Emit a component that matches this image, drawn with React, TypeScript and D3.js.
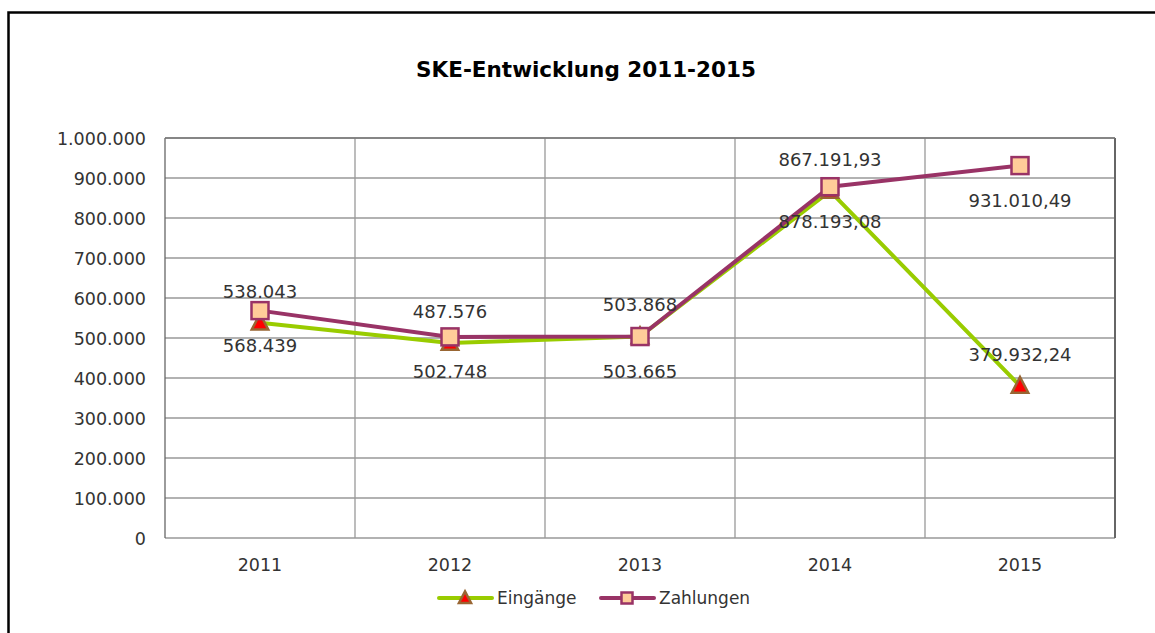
import React from 'react';
import { scaleBand, scaleLinear, line, range } from 'd3';

const years = ['2011', '2012', '2013', '2014', '2015'];
const eingaenge = [538043, 487576, 503868, 867191.93, 379932.24];
const zahlungen = [568439, 502748, 503665, 878193.08, 931010.49];
const eingaengeLabels = ['538.043', '487.576', '503.868', '867.191,93', '379.932,24'];
const zahlungenLabels = ['568.439', '502.748', '503.665', '878.193,08', '931.010,49'];
const yTickLabels = ['0', '100.000', '200.000', '300.000', '400.000', '500.000', '600.000', '700.000', '800.000', '900.000', '1.000.000'];

const W = 1155
const H = 633
const plot = { left: 165, right: 1115, top: 138, bottom: 538 }
const font = "'DejaVu Sans', sans-serif"
const green = '#99CC00'
const purple = '#993366'

const Triangle = ({ x, y, s }) => (
  <path d={`M${x},${y - s * 0.6} L${x + s * 0.55},${y + s * 0.45} L${x - s * 0.55},${y + s * 0.45} Z`}
    fill="#FF0000" stroke="#996633" strokeWidth={2.5} strokeLinejoin="miter" />
)
const Square = ({ x, y, s }) => (
  <rect x={x - s / 2} y={y - s / 2} width={s} height={s} fill="#FFCC99" stroke={purple} strokeWidth={2.5} />
)

export default function App() {
  const xScale = scaleBand().domain(years).range([plot.left, plot.right])
  const yScale = scaleLinear().domain([0, 1000000]).range([plot.bottom, plot.top])
  const cx = (d) => xScale(d) + xScale.bandwidth() / 2
  const lineGen = line().x((d) => cx(d[0])).y((d) => yScale(d[1]))
  const ticks = range(0, 1000001, 100000)

  return (
    <svg width={W} height={H} style={{ position: 'absolute', left: 0, top: 0, background: '#fff' }} fontFamily={font}>
      <rect x={0} y={0} width={W} height={H} fill="#fff" />
      <rect x={8.5} y={12.5} width={1400} height={900} fill="none" stroke="#000" strokeWidth={2.5} />
      <text x={586} y={77} textAnchor="middle" fontSize={21.5} fontWeight="bold" fill="#000">SKE-Entwicklung 2011-2015</text>

      {/* grid */}
      {ticks.map((t, i) => (
        <line key={'h' + i} x1={plot.left} x2={plot.right} y1={yScale(t)} y2={yScale(t)} stroke="#999" strokeWidth={1.3} />
      ))}
      {years.slice(1).map((y) => (
        <line key={'v' + y} x1={xScale(y)} x2={xScale(y)} y1={plot.top} y2={plot.bottom} stroke="#999" strokeWidth={1.3} />
      ))}
      <line x1={plot.left} x2={plot.left} y1={plot.top} y2={plot.bottom} stroke="#666" strokeWidth={1.3} />
      <line x1={plot.right} x2={plot.right} y1={plot.top} y2={plot.bottom} stroke="#666" strokeWidth={2} />
      <line x1={plot.left} x2={plot.right} y1={plot.top} y2={plot.top} stroke="#777" strokeWidth={1.3} />

      {/* y axis labels */}
      {ticks.map((t, i) => (
        <text key={'yl' + i} x={146} y={yScale(t) + 6.5} textAnchor="end" fontSize={17.5} fill="#333">{yTickLabels[i]}</text>
      ))}
      {/* x axis labels */}
      {years.map((y) => (
        <text key={'xl' + y} x={cx(y)} y={571} textAnchor="middle" fontSize={17.5} fill="#333">{y}</text>
      ))}

      {/* series */}
      <path d={lineGen(years.map((y, i) => [y, eingaenge[i]]))} fill="none" stroke={green} strokeWidth={4} strokeLinejoin="round" />
      {years.map((y, i) => <Triangle key={'t' + y} x={cx(y)} y={yScale(eingaenge[i])} s={15} />)}
      <path d={lineGen(years.map((y, i) => [y, zahlungen[i]]))} fill="none" stroke={purple} strokeWidth={4} strokeLinejoin="round" />
      {years.map((y, i) => <Square key={'s' + y} x={cx(y)} y={yScale(zahlungen[i])} s={17} />)}

      {/* data labels */}
      {years.map((y, i) => (
        <text key={'el' + y} x={cx(y)} y={yScale(eingaenge[i]) - 25} textAnchor="middle" fontSize={18} fill="#333">{eingaengeLabels[i]}</text>
      ))}
      {years.map((y, i) => (
        <text key={'zl' + y} x={cx(y)} y={yScale(zahlungen[i]) + 41} textAnchor="middle" fontSize={18} fill="#333">{zahlungenLabels[i]}</text>
      ))}

      {/* legend */}
      <line x1={439} x2={492} y1={598} y2={598} stroke={green} strokeWidth={4} strokeLinecap="round" />
      <Triangle x={465} y={598} s={11} />
      <text x={497} y={604} fontSize={17} fill="#333">Eingänge</text>
      <line x1={601} x2={654} y1={598} y2={598} stroke={purple} strokeWidth={4} strokeLinecap="round" />
      <Square x={627} y={598} s={11} />
      <text x={659} y={604} fontSize={17} fill="#333">Zahlungen</text>
    </svg>
  )
}
